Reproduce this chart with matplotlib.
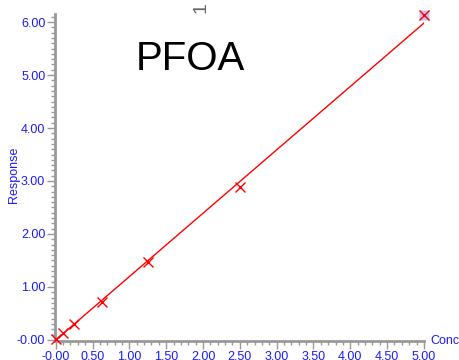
import numpy as np
import matplotlib.pyplot as plt
from matplotlib.ticker import MultipleLocator, FormatStrFormatter

plt.rcParams['font.family'] = ['Liberation Sans', 'DejaVu Sans']

# calibration points
conc = [0.0, 0.1, 0.25, 0.625, 1.25, 2.5, 5.0]
response = [0.01, 0.13, 0.30, 0.72, 1.47, 2.88, 6.14]

# fitted line
slope = 1.196
intercept = 0.0
fit_x = np.array([0.0, 5.0])

blue = '#1a1aff'
gray = '#999999'

fig = plt.figure(figsize=(4.6, 3.6), dpi=100)
ax = fig.add_axes([0.1196, 0.0528, 0.802, 0.908])

ax.plot(fit_x, slope * fit_x + intercept, color='red', lw=1.0, zorder=2)
ax.plot(conc[-1], response[-1], marker='s', ms=6.5, color='#c4bcf2',
        mec='none', zorder=2, clip_on=False)
ax.plot(conc, response, ls='none', marker='x', ms=7, mew=1.0,
        color='red', zorder=3, clip_on=False)

ax.set_xlim(-0.01, 5.0)
ax.set_ylim(-0.02, 6.15)

for s in ['top', 'right']:
    ax.spines[s].set_visible(False)
for s in ['left', 'bottom']:
    ax.spines[s].set_color(gray)
    ax.spines[s].set_linewidth(2)

ax.xaxis.set_minor_locator(MultipleLocator(0.1))
ax.yaxis.set_minor_locator(MultipleLocator(0.1))

ax.tick_params(which='major', length=6, width=1, color=gray,
               labelcolor=blue, labelsize=9, pad=1)
ax.tick_params(which='minor', length=3, width=1, color=gray)

# tick labels as in the reference, zero shown as -0.00
ax.set_xticks(np.arange(0, 5.01, 0.5))
ax.set_xticklabels(['-0.00'] + ['%.2f' % v for v in np.arange(0.5, 5.01, 0.5)])
ax.set_yticks(np.arange(0, 6.01, 1.0))
ax.set_yticklabels(['-0.00'] + ['%.2f' % v for v in np.arange(1, 6.01, 1.0)])

fig.text(14 / 460, 1 - 175 / 360, 'Response', rotation=90, color=blue,
         fontsize=9, ha='center', va='center')
fig.text(430 / 460, 1 - 341 / 360, 'Conc', color=blue, fontsize=9,
         ha='left', va='center')
fig.text(190 / 460, 1 - 59 / 360, 'PFOA', color='black', fontsize=29,
         ha='center', va='center')
fig.text(201 / 460, 1 - 8 / 360, '1', color='#666666', fontsize=14,
         rotation=90, ha='center', va='center')

fig.savefig('out.png', dpi=100)
